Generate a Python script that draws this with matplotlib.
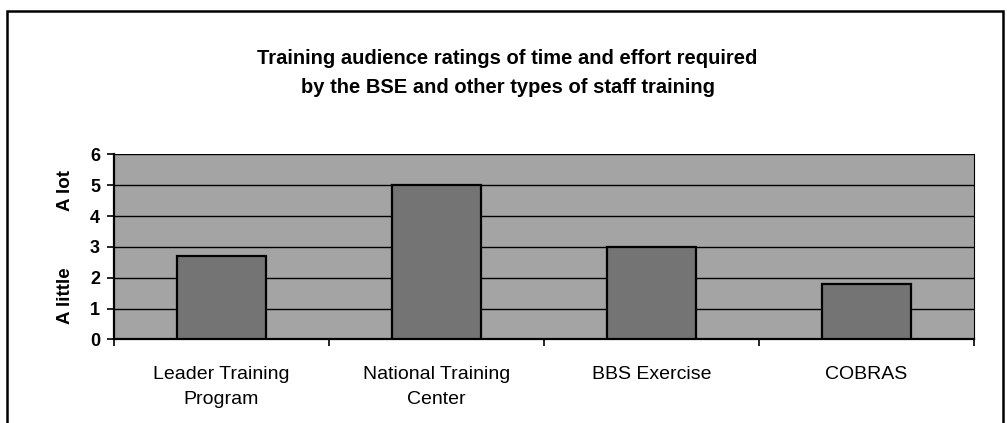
import matplotlib
matplotlib.use("Agg")
import matplotlib.pyplot as plt
from matplotlib.patches import Rectangle

plt.rcParams['font.family'] = ['Liberation Sans', 'DejaVu Sans']

# du lieu
categories = ["Leader Training\nProgram", "National Training\nCenter", "BBS Exercise", "COBRAS"]
ratings = [2.7, 5.0, 3.0, 1.8]
y_ticks = [0, 1, 2, 3, 4, 5, 6]
title = "Training audience ratings of time and effort required\nby the BSE and other types of staff training"

fig = plt.figure(figsize=(10.07, 4.23), dpi=100)
ax = fig.add_axes([0.1132, 0.1974, 0.854, 0.4374])
ax.set_facecolor('#a4a4a4')

x = list(range(len(categories)))
ax.bar(x, ratings, width=0.41, color='#747474', edgecolor='black', linewidth=1.6, zorder=3)

# luoi ngang
for v in y_ticks[1:]:
    ax.axhline(v, color='black', linewidth=1.0, zorder=2)

ax.set_xlim(-0.5, len(categories) - 0.5)
ax.set_ylim(0, 6)
ax.set_yticks(y_ticks)
ax.set_yticklabels([str(v) for v in y_ticks], fontsize=13, fontweight='bold')
ax.tick_params(axis='y', length=5, width=1.2, pad=5)

# vach chia giua cac nhom, nhan o giua
ax.set_xticks([i - 0.5 for i in range(len(categories) + 1)])
ax.set_xticklabels([])
ax.set_xticks(x, minor=True)
ax.set_xticklabels(categories, minor=True, fontsize=14, linespacing=1.65)
ax.tick_params(axis='x', which='major', length=5, width=1.2)
ax.tick_params(axis='x', which='minor', length=0, pad=19)

for s in ['left', 'bottom']:
    ax.spines[s].set_linewidth(1.6)
ax.spines['right'].set_linewidth(0.8)
ax.spines['top'].set_visible(False)

# nhan truc y
fig.text(66 / 1007, 1 - 296 / 423, "A little", rotation=90, ha='center', va='center',
         fontsize=13.5, fontweight='bold')
fig.text(66 / 1007, 1 - 190 / 423, "A lot", rotation=90, ha='center', va='center',
         fontsize=13.5, fontweight='bold')

fig.text(0.504, 1 - 73 / 423, title, ha='center', va='center', fontsize=14.5,
         fontweight='bold', linespacing=1.7)

# khung ngoai
fig.patches.append(Rectangle((7 / 1007, -0.05), 996 / 1007, 1.05 - 11 / 423,
                             transform=fig.transFigure, fill=False,
                             edgecolor='black', linewidth=1.8, clip_on=False))

fig.savefig("out.png", dpi=100)
